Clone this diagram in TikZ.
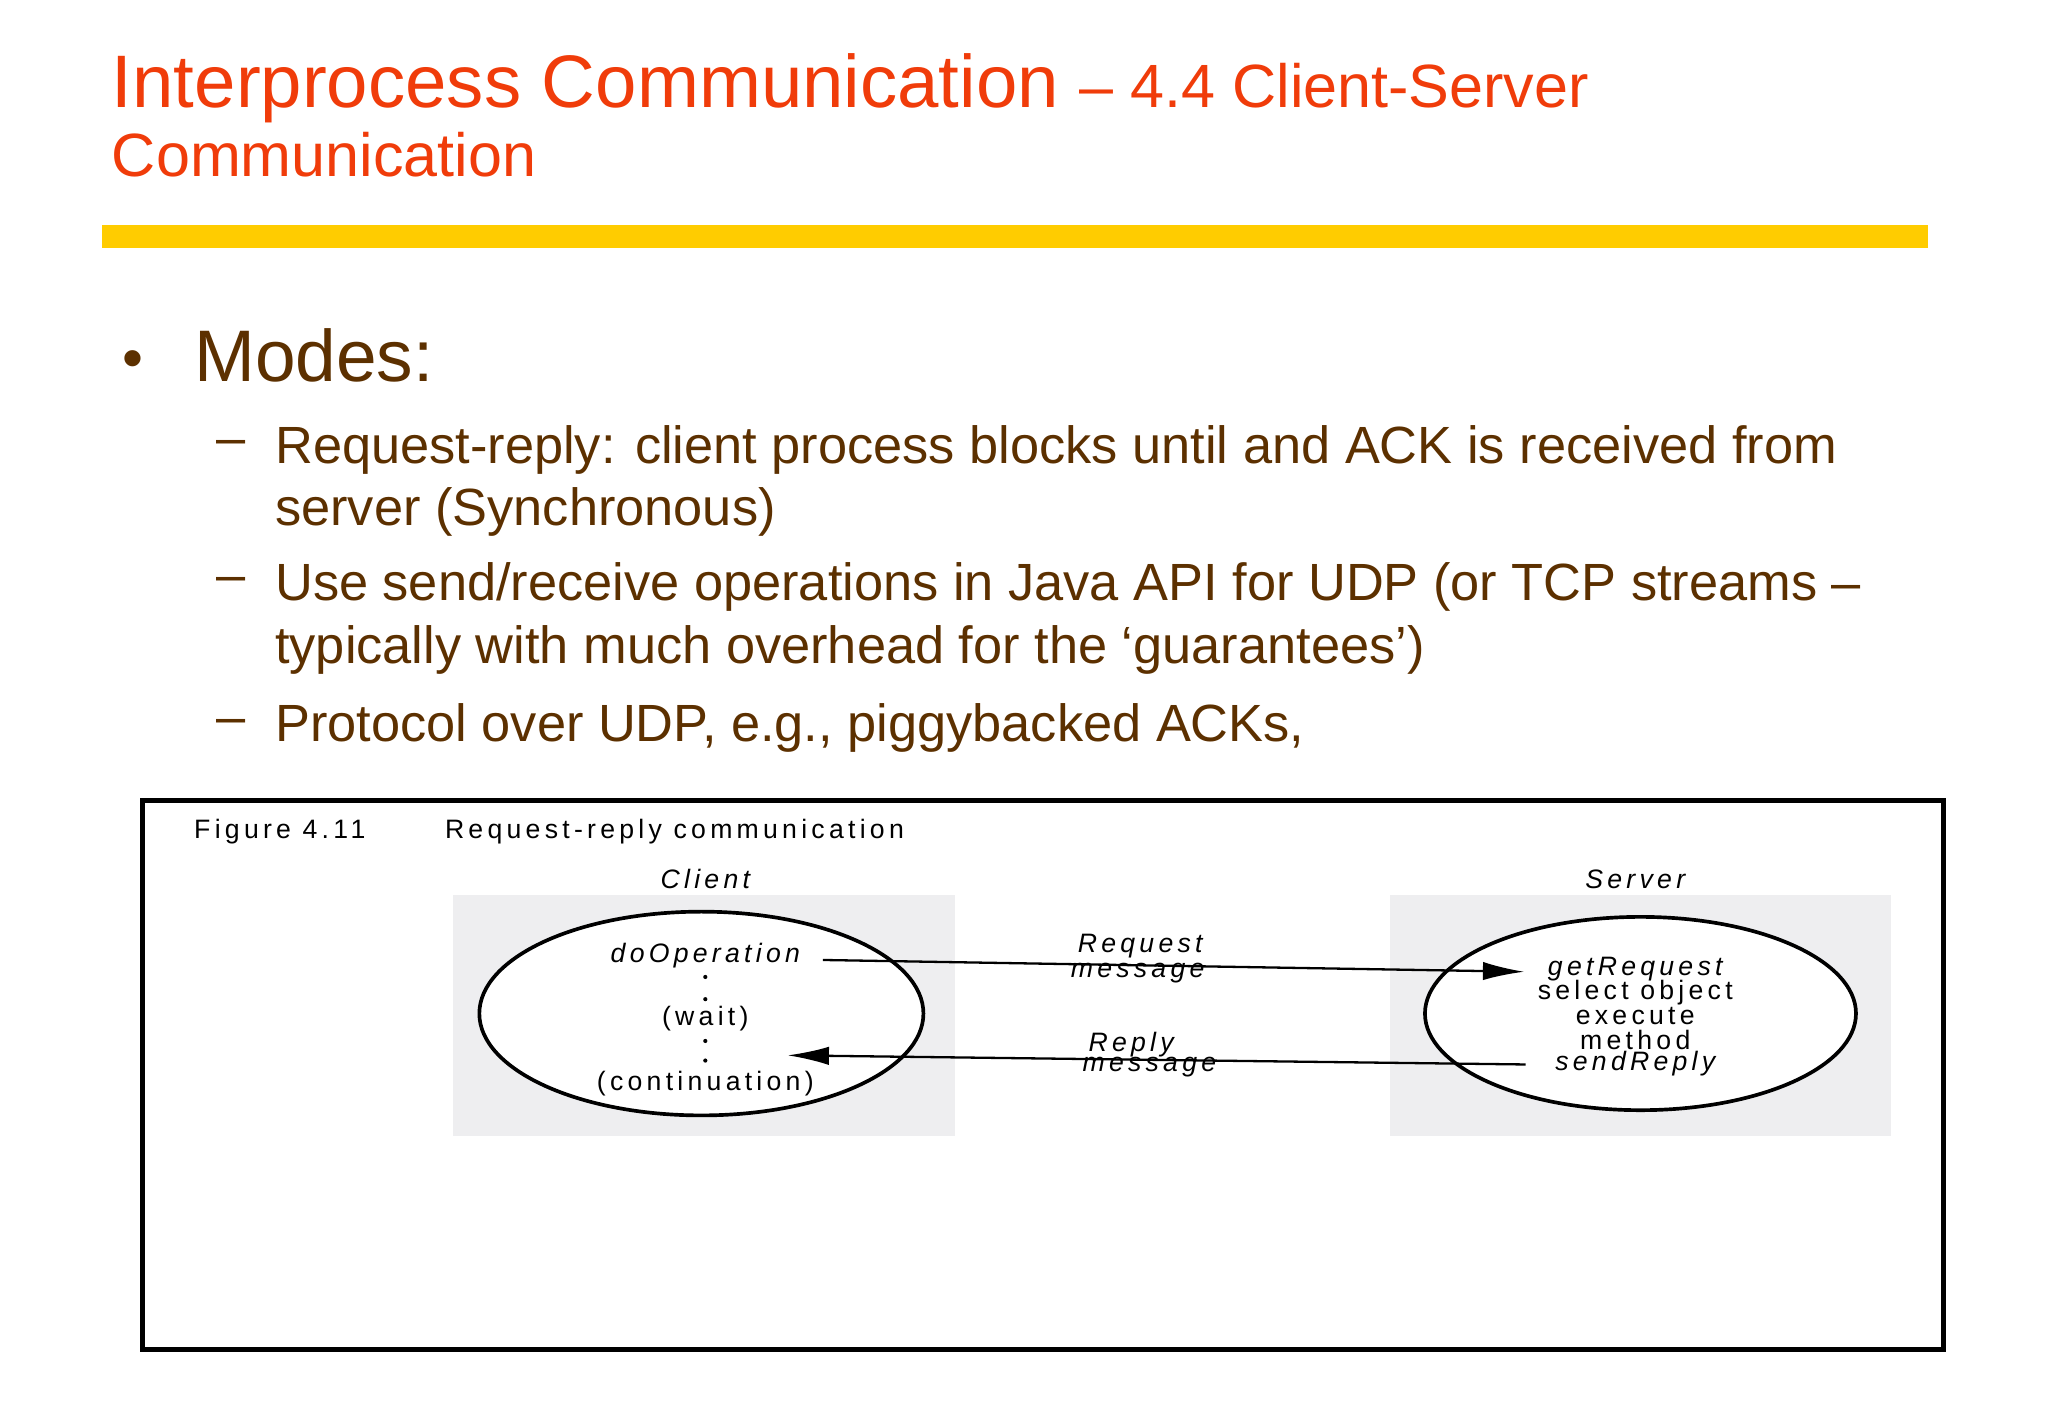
\documentclass[tikz,border=0pt]{standalone}
\usepackage{fontspec}
\setmainfont{Liberation Sans}
\usetikzlibrary{arrows.meta}
\definecolor{titlered}{HTML}{F03C0A}
\definecolor{bar}{HTML}{FFCC00}
\definecolor{txtbrown}{HTML}{5C3000}
\definecolor{panel}{HTML}{EEEEF0}
\begin{document}
\begin{tikzpicture}[x=0.01cm,y=-0.01cm,
  body/.style={anchor=base west,text=txtbrown,font=\fontsize{11.4}{14}\selectfont,inner sep=0},
  fig/.style={inner sep=0,font=\fontsize{5.8}{6}\selectfont\addfontfeatures{LetterSpace=16}},
  figi/.style={fig,font=\fontsize{5.8}{6}\selectfont\itshape\addfontfeatures{LetterSpace=16}},
  msg/.style={line width=0.5pt,-{Latex[length=9pt,width=4pt]}}]
\useasboundingbox (0,0) rectangle (1568,1086);
% title
\node[anchor=base west,inner sep=0,text=titlered] (t1) at (85,82)
  {\fontsize{16.2}{20}\selectfont Interprocess Communication \fontsize{13.3}{16}\selectfont -- 4.4 Client-Server};
\node[anchor=base west,inner sep=0,text=titlered,font=\fontsize{13.3}{16}\selectfont] (t2) at (85,135) {Communication};
\fill[bar] (78,172) rectangle (1476,190);
% bullets
\node[body,font=\fontsize{13}{16}\selectfont] (b) at (93,290) {•};
\node[body,font=\fontsize{15.9}{20}\selectfont] (modes) at (148,292) {Modes:};
\foreach \y/\t in {355/Request-reply: client process blocks until and ACK is received from,
  402/server (Synchronous),
  460/{Use send{/}receive operations in Java API for UDP (or TCP streams --},
  508/{typically with much overhead for the `guarantees')},
  568/{Protocol over UDP, e.g., piggybacked ACKs,}}
  \node[body] at (210,\y) {\t};
\foreach \y in {355,460,568} \node[body] at (165,\y-6) {--};
% figure
\draw[line width=1pt] (109,613) rectangle (1488,1033);
\node[fig,anchor=base west] (fn) at (148,642) {Figure 4.11};
\node[fig,anchor=base west] (fc) at (340,642) {Request-reply communication};
\node[figi] (cl) at (540,673) {Client};
\node[figi] (sv) at (1252,673) {Server};
\fill[panel] (347,685) rectangle (731,870);
\fill[panel] (1064,685) rectangle (1448,870);
\draw[line width=0.8pt,fill=white] (537,776) ellipse [x radius=170,y radius=78];
\draw[line width=0.8pt,fill=white] (1256,776) ellipse [x radius=165,y radius=74];
\node[figi] (doop) at (540,732) {doOperation};
\foreach \y in {748,765,797,812} \fill (540,\y) circle (1.6);
\node[fig] (wait) at (540,780) {(wait)};
\node[fig] (cont) at (540,830) {(continuation)};
\node[figi] (getr) at (1252,742) {getRequest};
\node[fig] (sel) at (1252,760) {select object};
\node[fig] (exe) at (1252,778) {execute};
\node[fig] (meth) at (1252,796) {method};
\node[figi] (sendr) at (1252,814) {sendReply};
\coordinate (a1) at (630,735); \coordinate (a2) at (1167,744);
\coordinate (r1) at (1168,815); \coordinate (r2) at (603,808);
\draw[msg] (a1) -- (a2);
\draw[msg] (r1) -- (r2);
\node[figi] (rq) at (873,724) {Request};
\node[figi] (rqm) at (871,745) {message};
\node[figi] (rp) at (866,800) {Reply};
\node[figi] (rpm) at (880,817) {message};
\end{tikzpicture}
\end{document}
